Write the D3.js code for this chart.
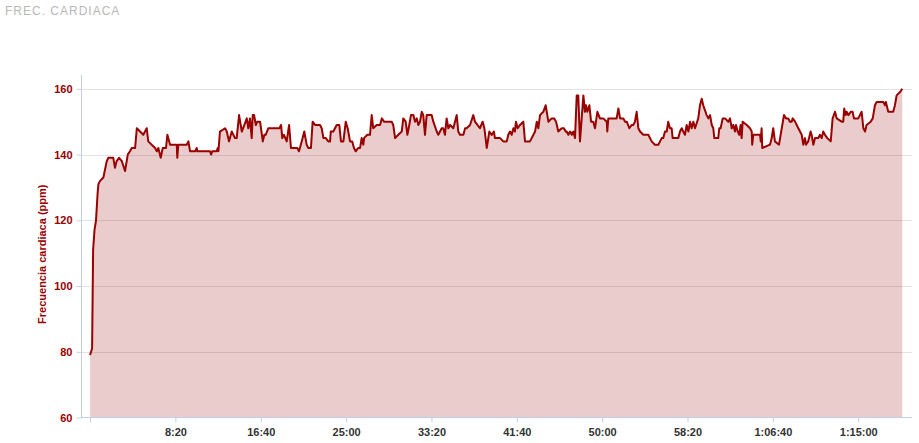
<!DOCTYPE html>
<html><head><meta charset="utf-8">
<script src="https://cdn.jsdelivr.net/npm/d3@7"></script>
<style>
body{margin:0;background:#fff;}
svg{display:block;font-family:"Liberation Sans",Arial,Helvetica,sans-serif;}
</style></head>
<body><svg id="chart" width="919" height="443"></svg>
<script>
const title = "FREC. CARDIACA";
const yTitle = "Frecuencia cardiaca (ppm)";
const seconds = [0,12,18,26,35,44,49,59,78,98,107,127,136,146,156,170,186,205,221,234,244,264,274,293,312,332,341,361,381,391,400,414,426,445,453,469,498,508,511,517,566,576,586,615,625,628,703,709,716,742,748,752,761,791,801,814,830,849,859,873,889,904,918,927,937,947,953,961,971,980,996,1012,1021,1029,1044,1109,1119,1126,1136,1152,1166,1177,1214,1224,1240,1255,1269,1279,1294,1304,1318,1347,1357,1367,1381,1396,1406,1410,1425,1445,1460,1470,1484,1498,1509,1523,1536,1546,1556,1572,1582,1591,1601,1605,1624,1640,1650,1659,1679,1699,1709,1722,1747,1767,1776,1787,1806,1826,1835,1849,1859,1870,1880,1894,1904,1914,1923,1933,1943,1952,1962,1972,1992,2001,2011,2031,2040,2050,2060,2069,2079,2089,2099,2109,2128,2138,2148,2157,2167,2187,2197,2206,2226,2245,2255,2269,2284,2300,2310,2324,2339,2353,2366,2372,2402,2421,2441,2450,2460,2470,2480,2489,2495,2505,2519,2538,2548,2577,2607,2617,2626,2636,2655,2669,2685,2704,2718,2730,2743,2763,2776,2786,2792,2802,2812,2822,2831,2841,2851,2860,2870,2880,2890,2899,2905,2913,2925,2935,2948,2958,2972,2987,3007,3027,3030,3036,3085,3095,3105,3124,3134,3144,3159,3173,3182,3192,3202,3212,3222,3241,3261,3270,3290,3309,3329,3339,3349,3358,3368,3378,3387,3397,3407,3413,3446,3456,3466,3475,3485,3495,3505,3515,3524,3534,3544,3563,3573,3583,3592,3612,3622,3632,3642,3651,3657,3680,3686,3694,3706,3720,3739,3749,3759,3768,3778,3784,3794,3803,3811,3817,3823,3847,3866,3876,3879,3885,3925,3929,3934,3938,3983,3993,4002,4012,4036,4052,4065,4077,4090,4100,4110,4116,4130,4149,4169,4178,4188,4194,4207,4221,4227,4237,4247,4266,4276,4286,4295,4305,4319,4339,4350,4364,4374,4403,4412,4418,4426,4432,4442,4456,4467,4475,4500,4520,4530,4540,4549,4573,4585,4598,4608,4647,4657,4662,4676,4705,4715,4725,4745,4758];
const bpm = [79,81,111,117,120,128,131,132,133,138,139,139,139,136,138,139,138,135,140,141,142,142,148,147,146,148,144,143,142,141,142,139,142,142,146,143,143,143,139,143,143,144,141,141,142,141,141,140,141,141,142,141,147,148,147,144,147,145,145,152,147,149,151,148,151,145,152,152,149,150,150,144,146,146,148,148,149,145,146,144,149,142,142,141,144,147,143,142,142,150,149,149,148,145,145,144,144,147,147,149,149,144,144,150,148,144,144,142,141,142,142,145,143,145,146,146,152,148,149,149,151,150,150,150,149,145,146,147,151,150,146,149,152,152,150,151,149,150,153,152,146,152,152,152,150,147,146,147,148,148,146,151,148,149,148,150,152,147,146,146,148,148,149,152,150,149,148,150,148,142,147,146,147,145,145,144,144,146,147,146,148,147,150,148,149,150,144,144,147,150,148,152,153,155,150,151,151,150,147,148,148,147,147,146,147,146,147,145,158,158,144,151,158,153,155,153,155,150,150,148,153,151,151,150,147,151,151,154,151,151,150,150,148,149,149,150,153,148,147,146,146,146,144,143,143,144,145,145,147,147,150,148,148,145,145,147,148,147,146,149,147,150,148,150,148,151,155,157,155,152,151,152,149,148,145,145,148,148,151,151,150,151,148,149,147,149,147,146,149,145,150,149,148,147,143,146,146,144,148,142,143,145,148,144,143,148,152,151,151,150,150,151,150,148,146,143,145,143,144,147,146,143,145,145,146,145,147,146,145,144,151,153,151,150,150,154,152,153,152,153,153,151,151,153,148,147,149,150,151,155,156,156,155,156,153,153,155,158,159,160];
const yTicks = [60,80,100,120,140,160];
const xTickSeconds = [0,500,1000,1500,2000,2500,3000,3500,4000,4500];
const xTickLabels = ["","8:20","16:40","25:00","33:20","41:40","50:00","58:20","1:06:40","1:15:00"];

(function(){
const n = Math.min(seconds.length, bpm.length);
const data = d3.range(n).map(i=>({t:seconds[i], v:bpm[i]}));
const svg = d3.select("#chart");
const pLeft = 81, pRight = 912, pTop = 75, pBottom = 417.5;
const x = d3.scaleLinear().domain([-53, 4815]).range([pLeft, pRight]);
const y = d3.scaleLinear().domain([60, 164.2]).range([pBottom, pTop]);

svg.append("text").attr("x",5).attr("y",15).text(title)
  .attr("fill","#b8b8b8").attr("font-size",12).attr("letter-spacing","1px");

svg.append("g").selectAll("line").data(yTicks.slice(1)).join("line")
  .attr("x1",pLeft).attr("x2",pRight)
  .attr("y1",d=>Math.round(y(d))+0.5).attr("y2",d=>Math.round(y(d))+0.5)
  .attr("stroke","#e3e3e3").attr("stroke-width",1);

const area = d3.area().x(d=>x(d.t)).y0(y(60)).y1(d=>y(d.v));
const line = d3.line().x(d=>x(d.t)).y(d=>y(d.v));
svg.append("path").datum(data).attr("d",area).attr("fill","rgba(153,0,0,0.2)");
svg.append("path").datum(data).attr("d",line).attr("fill","none")
  .attr("stroke","#990000").attr("stroke-width",2).attr("stroke-linejoin","round");

const yAxis = d3.axisLeft(y).tickValues(yTicks).tickSize(5).tickPadding(4);
const gy = svg.append("g").attr("transform",`translate(${pLeft+0.5},0)`).call(yAxis);
gy.select(".domain").remove();
gy.append("line").attr("x1",0).attr("x2",0).attr("y1",pTop).attr("y2",pBottom).attr("stroke","#c0d0e0");
gy.selectAll(".tick line").attr("stroke","#c0d0e0");
gy.selectAll(".tick text").attr("fill","#990000").attr("font-size",11).attr("font-weight","bold")
  .attr("font-family","'Liberation Sans',Arial,sans-serif");

const xAxis = d3.axisBottom(x).tickValues(xTickSeconds).tickSize(5).tickPadding(6)
  .tickFormat((d,i)=>xTickLabels[i]);
const gx = svg.append("g").attr("transform",`translate(0,${pBottom})`).call(xAxis);
gx.select(".domain").remove();
gx.append("line").attr("x1",pLeft).attr("x2",pRight).attr("y1",0).attr("y2",0).attr("stroke","#c0d0e0");
gx.selectAll(".tick line").attr("stroke","#c0d0e0");
gx.selectAll(".tick text").attr("fill","#333").attr("font-size",11).attr("font-weight","bold")
  .attr("font-family","'Liberation Sans',Arial,sans-serif");

svg.append("text").attr("transform",`translate(46,${(pTop+pBottom)/2+8}) rotate(-90)`)
  .attr("text-anchor","middle").attr("fill","#990000").attr("font-size",11).attr("font-weight","bold")
  .text(yTitle);
})();
</script></body></html>
